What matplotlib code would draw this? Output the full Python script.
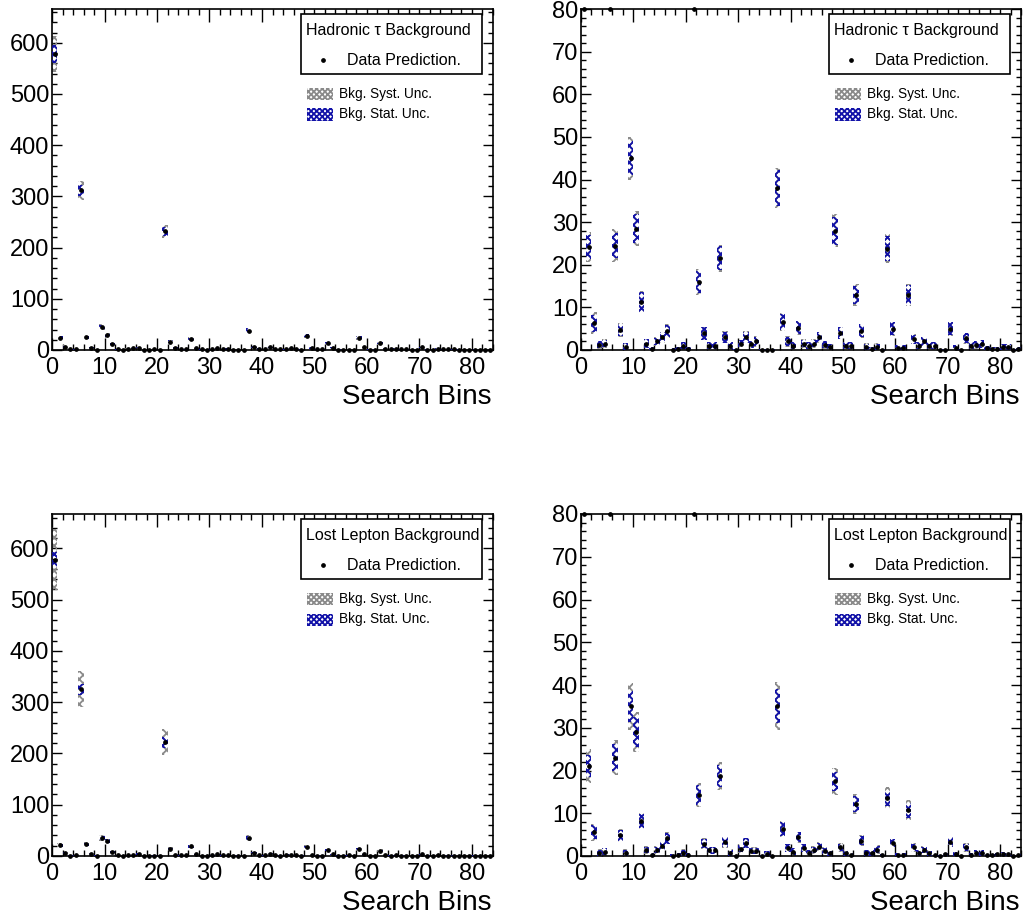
import numpy as np
import matplotlib
matplotlib.use("Agg")
import matplotlib.pyplot as plt
from matplotlib.patches import Rectangle
from matplotlib.ticker import MultipleLocator

plt.rcParams['font.family'] = ['Liberation Sans', 'DejaVu Sans']
plt.rcParams['hatch.linewidth'] = 1.3

# ---- data -----------------------------------------------------------------
search_bins = np.arange(84)

# Hadronic tau background: prediction, stat and syst half-widths per search bin
had_pred = [578, 24.2, 6.3, 1.2, 1.5, 312, 24.5, 4.7, 0.8, 45,
            28.5, 11.3, 1.5, 0.2, 2.0, 3.0, 4.5, 0.1, 0.3, 1.0,
            0.3, 232, 16, 3.9, 1.0, 1.0, 21.5, 3.0, 1.0, 0.0,
            1.5, 3.0, 1.3, 2.0, 0.0, 0.0, 0.0, 38, 6.5, 2.0,
            1.0, 5.2, 1.5, 1.0, 1.5, 3.0, 1.2, 0.7, 28, 4.0,
            1.0, 1.0, 12.9, 4.5, 0.8, 0.3, 0.8, 0.0, 23.8, 5.0,
            0.5, 0.5, 13, 2.5, 1.0, 2.0, 1.0, 1.0, 0.0, 0.0,
            5.0, 0.5, 0.0, 2.8, 1.0, 1.2, 1.4, 0.5, 0.3, 0.3,
            0.7, 0.6, 0.0, 0.3]
had_stat = [17, 2.8, 2.0, 0.8, 0.9, 11, 3.0, 1.4, 0.8, 4.0,
            3.5, 2.3, 1.0, 0.5, 0.9, 1.2, 1.4, 0.3, 0.4, 0.8,
            0.4, 8.5, 2.6, 1.5, 0.8, 0.8, 2.8, 1.3, 0.8, 0.3,
            0.8, 1.3, 0.8, 1.1, 0.3, 0.3, 0.3, 4.2, 1.9, 1.1,
            0.8, 1.5, 0.9, 0.8, 0.9, 1.2, 0.8, 0.6, 3.3, 1.4,
            0.8, 0.8, 2.2, 1.5, 0.7, 0.5, 0.7, 0.3, 3.0, 1.5,
            0.6, 0.6, 2.2, 1.1, 0.8, 1.0, 0.8, 0.8, 0.3, 0.3,
            1.5, 0.6, 0.3, 1.2, 0.8, 0.8, 0.9, 0.5, 0.5, 0.5,
            0.7, 0.7, 0.3, 0.5]
had_syst = [35, 3.6, 2.6, 0.9, 1.0, 19, 3.8, 1.6, 0.9, 5.0,
            4.2, 2.6, 1.1, 0.5, 1.0, 1.3, 1.6, 0.3, 0.4, 0.9,
            0.4, 13, 3.0, 1.6, 0.9, 0.9, 3.2, 1.4, 0.9, 0.3,
            0.9, 1.4, 0.9, 1.2, 0.3, 0.3, 0.3, 4.8, 2.1, 1.2,
            0.9, 1.6, 1.0, 0.9, 1.0, 1.3, 0.9, 0.7, 3.8, 1.5,
            0.9, 0.9, 2.5, 1.6, 0.8, 0.5, 0.8, 0.3, 3.5, 1.6,
            0.6, 0.6, 2.6, 1.2, 0.9, 1.1, 0.9, 0.9, 0.3, 0.3,
            1.6, 0.6, 0.3, 1.3, 0.8, 0.9, 0.9, 0.5, 0.5, 0.5,
            0.7, 0.7, 0.3, 0.5]

# Lost lepton background
ll_pred = [578, 21, 5.6, 0.8, 1.0, 325, 23, 4.8, 0.8, 35,
           29, 8.2, 1.4, 0.2, 1.4, 2.4, 4.1, 0.1, 0.3, 0.8,
           0.3, 222, 14.2, 2.9, 1.3, 1.3, 18.7, 3.2, 0.8, 0.0,
           1.7, 3.0, 1.2, 1.2, 0.0, 0.5, 0.0, 35, 6.3, 1.9,
           1.0, 4.4, 1.9, 0.8, 1.4, 2.2, 1.2, 0.6, 17.5, 2.0,
           0.8, 0.3, 12.2, 3.6, 0.7, 0.7, 1.5, 0.2, 13.5, 3.0,
           0.3, 0.3, 10.7, 2.0, 0.7, 1.5, 0.6, 0.2, 0.0, 0.4,
           3.3, 0.5, 0.0, 2.0, 0.3, 0.8, 0.7, 0.2, 0.2, 0.4,
           0.5, 0.4, 0.1, 0.2]
ll_stat = [15, 2.6, 1.7, 0.7, 0.8, 11, 3.2, 1.3, 0.7, 3.7,
           3.6, 1.7, 0.8, 0.4, 0.8, 1.0, 1.3, 0.3, 0.4, 0.7,
           0.4, 11, 2.3, 1.1, 0.8, 0.8, 2.5, 1.2, 0.7, 0.3,
           0.8, 1.1, 0.7, 0.7, 0.3, 0.6, 0.3, 4.0, 1.7, 0.9,
           0.8, 1.2, 0.9, 0.6, 0.8, 0.9, 0.7, 0.6, 2.2, 0.9,
           0.7, 0.4, 1.9, 1.1, 0.6, 0.6, 0.9, 0.3, 1.8, 0.9,
           0.4, 0.4, 1.8, 0.9, 0.6, 0.7, 0.5, 0.3, 0.2, 0.3,
           1.1, 0.5, 0.2, 0.9, 0.4, 0.6, 0.6, 0.3, 0.3, 0.4,
           0.5, 0.4, 0.2, 0.3]
ll_syst = [60, 4.0, 2.0, 0.8, 0.9, 35, 4.1, 1.5, 0.8, 5.5,
           4.6, 1.9, 0.9, 0.4, 0.9, 1.1, 1.4, 0.3, 0.4, 0.8,
           0.4, 25, 2.8, 1.2, 0.9, 0.9, 3.3, 1.3, 0.8, 0.3,
           0.9, 1.2, 0.8, 0.8, 0.3, 0.6, 0.3, 5.6, 1.9, 1.0,
           0.9, 1.3, 1.0, 0.6, 0.9, 1.0, 0.8, 0.6, 3.2, 1.0,
           0.8, 0.4, 2.4, 1.2, 0.6, 0.6, 1.0, 0.3, 2.6, 1.0,
           0.4, 0.4, 2.3, 1.0, 0.6, 0.8, 0.6, 0.3, 0.2, 0.3,
           1.2, 0.5, 0.2, 1.0, 0.4, 0.6, 0.6, 0.3, 0.3, 0.4,
           0.5, 0.4, 0.2, 0.3]

panel_titles = ["Hadronic \u03c4 Background", "Lost Lepton Background"]
entry_labels = ["Data Prediction.", "Bkg. Syst. Unc.", "Bkg. Stat. Unc."]
x_title = "Search Bins"

SYST_COLOR = "#8a8a8a"
STAT_COLOR = "#1212a8"
HATCH = "xxxx"


def draw_panel(ax, pred, stat, syst, ymax, major, minor, title):
    pred = np.asarray(pred, float)
    stat = np.asarray(stat, float)
    syst = np.asarray(syst, float)
    edges = search_bins.astype(float)

    ax.bar(edges, 2 * syst, bottom=pred - syst, width=1.0, align="edge",
           color="none", edgecolor=SYST_COLOR, hatch=HATCH, linewidth=0, zorder=2)
    ax.bar(edges, 2 * stat, bottom=pred - stat, width=1.0, align="edge",
           color="none", edgecolor=STAT_COLOR, hatch=HATCH, linewidth=0, zorder=3)
    ax.plot(edges + 0.5, np.minimum(pred, ymax), "o", ms=2.4, color="black",
            clip_on=False, zorder=4)

    ax.set_xlim(0, 84)
    ax.set_ylim(0, ymax)
    ax.xaxis.set_major_locator(MultipleLocator(10))
    ax.xaxis.set_minor_locator(MultipleLocator(2))
    ax.yaxis.set_major_locator(MultipleLocator(major))
    ax.yaxis.set_minor_locator(MultipleLocator(minor))
    ax.tick_params(axis="both", which="both", direction="in", top=True,
                   right=True, width=1.0, labelsize=17, colors="black")
    ax.tick_params(axis="x", which="major", length=9, pad=5)
    ax.tick_params(axis="x", which="minor", length=4.3)
    ax.tick_params(axis="y", which="major", length=7.2, pad=2)
    ax.tick_params(axis="y", which="minor", length=3.6)
    for sp in ax.spines.values():
        sp.set_linewidth(1.2)

    ax.text(0.997, -0.158, x_title, transform=ax.transAxes, ha="right",
            va="baseline", fontsize=20)

    # legend block
    ax.add_patch(Rectangle((0.5646, 0.809), 0.4105, 0.176,
                           transform=ax.transAxes, facecolor="white",
                           edgecolor="black", linewidth=1.2, zorder=5))
    ax.text(0.575, 0.938, title, transform=ax.transAxes, ha="left",
            va="center", fontsize=11.5, zorder=6)
    ax.plot([0.6145], [0.850], "o", ms=2.4, color="black",
            transform=ax.transAxes, zorder=6)
    ax.text(0.669, 0.850, entry_labels[0], transform=ax.transAxes,
            ha="left", va="center", fontsize=11.5, zorder=6)
    ax.add_patch(Rectangle((0.578, 0.733), 0.059, 0.035,
                           transform=ax.transAxes, facecolor="white",
                           edgecolor=SYST_COLOR, hatch="xxxxxx", linewidth=0,
                           zorder=6))
    ax.add_patch(Rectangle((0.578, 0.672), 0.059, 0.037,
                           transform=ax.transAxes, facecolor="white",
                           edgecolor=STAT_COLOR, hatch="xxxxxx", linewidth=0,
                           zorder=6))
    ax.text(0.651, 0.751, entry_labels[1], transform=ax.transAxes,
            ha="left", va="center", fontsize=9.8, zorder=6)
    ax.text(0.651, 0.692, entry_labels[2], transform=ax.transAxes,
            ha="left", va="center", fontsize=9.8, zorder=6)


fig = plt.figure(figsize=(10.27, 9.17), dpi=100)
W, H = 1027.0, 917.0


def axes_at(left, top, right, bottom):
    return fig.add_axes([left / W, 1 - bottom / H, (right - left) / W,
                         (bottom - top) / H])


ax_tl = axes_at(52, 9, 493, 350)
ax_tr = axes_at(581, 9, 1021, 350)
ax_bl = axes_at(52, 514, 493, 856)
ax_br = axes_at(581, 514, 1021, 856)

draw_panel(ax_tl, had_pred, had_stat, had_syst, 666, 100, 20, panel_titles[0])
draw_panel(ax_tr, had_pred, had_stat, had_syst, 80, 10, 2, panel_titles[0])
draw_panel(ax_bl, ll_pred, ll_stat, ll_syst, 667, 100, 20, panel_titles[1])
draw_panel(ax_br, ll_pred, ll_stat, ll_syst, 80, 10, 2, panel_titles[1])

fig.savefig("out.png", dpi=100, facecolor="white")
